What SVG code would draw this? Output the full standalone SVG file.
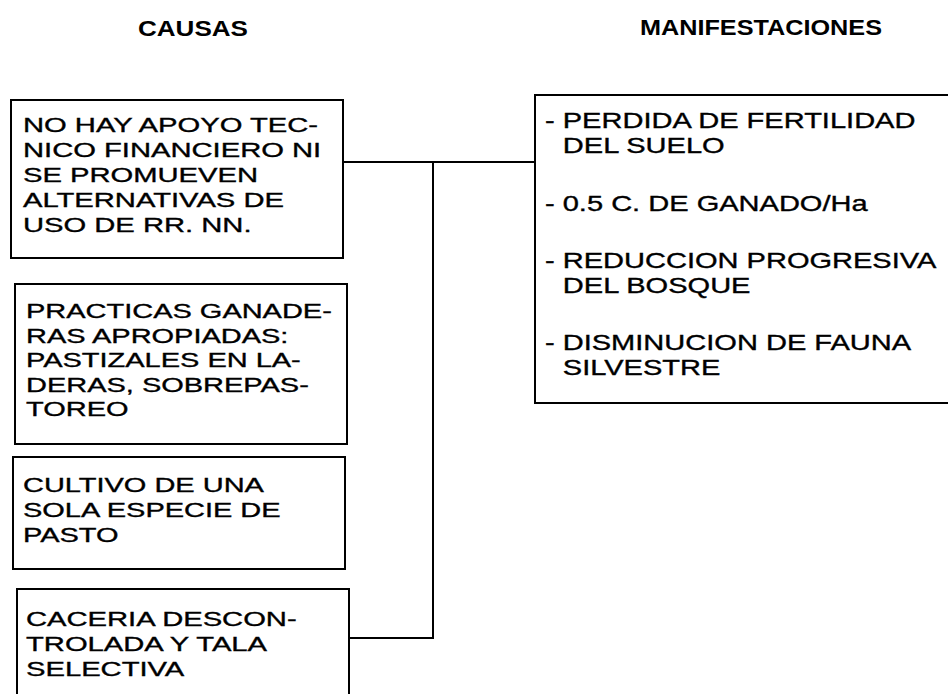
<svg xmlns="http://www.w3.org/2000/svg" width="948" height="694" viewBox="0 0 948 694">
<style>
.box{fill:#fff;stroke:#000;stroke-width:2}
.t{font-family:"Liberation Sans",Arial,sans-serif;font-size:21px;fill:#000;stroke:#000;stroke-width:0.35}
.m{font-size:22px}
.h{font-family:"Liberation Sans",Arial,sans-serif;font-size:22px;font-weight:bold;fill:#000}
.c{fill:none;stroke:#000;stroke-width:2}
</style>
<rect width="948" height="694" fill="#fff"/>
<text class="h" x="138" y="36" textLength="110" lengthAdjust="spacingAndGlyphs">CAUSAS</text>
<text class="h" x="640" y="35" textLength="242" lengthAdjust="spacingAndGlyphs">MANIFESTACIONES</text>
<g id="connectors">
<path class="c" d="M343 162 H535"/>
<path class="c" d="M433 162 V638 H349"/>
</g>
<g id="causa1">
<rect class="box" x="11" y="100" width="332" height="158"/>
<g transform="translate(23,0) scale(1.39,1)">
<text class="t" x="0" y="132">NO HAY APOYO TEC-</text>
<text class="t" x="0" y="157">NICO FINANCIERO NI</text>
<text class="t" x="0" y="182">SE PROMUEVEN</text>
<text class="t" x="0" y="207">ALTERNATIVAS DE</text>
<text class="t" x="0" y="232">USO DE RR. NN.</text>
</g>
</g>
<g id="causa2">
<rect class="box" x="15" y="284" width="332" height="160"/>
<g transform="translate(26,0) scale(1.38,1)">
<text class="t" x="0" y="318">PRACTICAS GANADE-</text>
<text class="t" x="0" y="343">RAS APROPIADAS:</text>
<text class="t" x="0" y="367">PASTIZALES EN LA-</text>
<text class="t" x="0" y="392">DERAS, SOBREPAS-</text>
<text class="t" x="0" y="416">TOREO</text>
</g>
</g>
<g id="causa3">
<rect class="box" x="13" y="457" width="332" height="112"/>
<g transform="translate(23,0) scale(1.38,1)">
<text class="t" x="0" y="492">CULTIVO DE UNA</text>
<text class="t" x="0" y="517">SOLA ESPECIE DE</text>
<text class="t" x="0" y="542">PASTO</text>
</g>
</g>
<g id="causa4">
<rect class="box" x="17" y="589" width="332" height="130"/>
<g transform="translate(26,0) scale(1.39,1)">
<text class="t" x="0" y="626">CACERIA DESCON-</text>
<text class="t" x="0" y="651">TROLADA Y TALA</text>
<text class="t" x="0" y="676">SELECTIVA</text>
</g>
</g>
<g id="manifestaciones">
<rect class="box" x="535" y="95" width="420" height="308"/>
<g transform="translate(545,0) scale(1.32,1)">
<text class="t m" x="0" y="128">- PERDIDA DE FERTILIDAD</text>
<text class="t m" x="13.5" y="153">DEL SUELO</text>
<text class="t m" x="0" y="211">- 0.5 C. DE GANADO/Ha</text>
<text class="t m" x="0" y="268">- REDUCCION PROGRESIVA</text>
<text class="t m" x="13.5" y="293">DEL BOSQUE</text>
<text class="t m" x="0" y="350">- DISMINUCION DE FAUNA</text>
<text class="t m" x="13.5" y="375">SILVESTRE</text>
</g>
</g>
</svg>
